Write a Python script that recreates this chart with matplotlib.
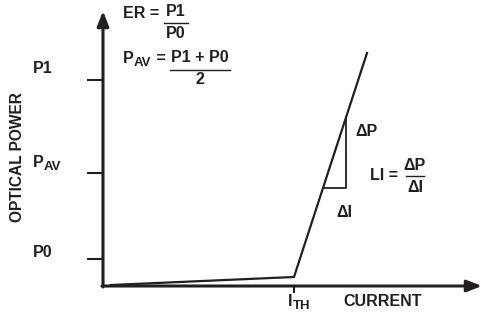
import matplotlib
matplotlib.use("Agg")
import matplotlib.pyplot as plt

plt.rcParams["font.family"] = ["Liberation Sans", "DejaVu Sans"]
plt.rcParams["font.weight"] = "bold"

# L-I curve (current, optical power), origin at the axes crossing
current = [8, 191, 264]
power = [1, 9, 233]

# power levels on the y axis: (main, subscript)
level_names = [("P1", ""), ("P", "AV"), ("P0", "")]
level_values = [206, 113, 27]
level_text_gap = [7, 6, 2]

# threshold current
i_th = 191

# slope triangle: start current / end current on the curve
tri_i = [220, 243]
tri_label_dp = "ΔP"
tri_label_di = "ΔI"

INK = "#231f20"
FS = 11.5
FS_SUB = 9.5


def power_at(i):
    # linear above threshold
    return power[1] + (power[2] - power[1]) * (i - current[1]) / (current[2] - current[1])


def sub_text(ax, x, y, main, sub, tail=""):
    # main text followed by a lowered, smaller subscript and optional tail
    t = ax.text(x, y, main, fontsize=FS, fontweight="bold", color=INK,
                ha="left", va="baseline")
    if not sub:
        return t
    s = ax.annotate(sub, xy=(1, 0), xycoords=t, xytext=(0.2, -2.4),
                    textcoords="offset points", fontsize=FS_SUB,
                    fontweight="bold", color=INK, ha="left", va="bottom")
    if tail:
        ax.annotate(tail, xy=(1, 0), xycoords=s, xytext=(0, 2.4),
                    textcoords="offset points", fontsize=FS,
                    fontweight="bold", color=INK, ha="left", va="bottom")
    return t


fig = plt.figure(figsize=(4.83, 3.13), dpi=100)
ax = fig.add_axes([0, 0, 1, 1])
ax.set_xlim(-103, 380)
ax.set_ylim(-27, 286)
ax.axis("off")

# axes with arrows
arrow = dict(arrowstyle="-|>,head_length=0.9,head_width=0.35", lw=2.2,
             color=INK, shrinkA=0, shrinkB=0)
ax.annotate("", xy=(0, 275), xytext=(0, -1), arrowprops=arrow)
ax.annotate("", xy=(379, 0), xytext=(-1, 0), arrowprops=arrow)

# level ticks and labels
for (name, sub), val, gap in zip(level_names, level_values, level_text_gap):
    ax.plot([-16, 0], [val, val], color=INK, lw=1.5, solid_capstyle="butt")
    sub_text(ax, -70, val + gap, name, sub)

# threshold tick
ax.plot([i_th, i_th], [-7, 0], color=INK, lw=1.5, solid_capstyle="butt")
sub_text(ax, i_th - 6, -20, "I", "TH")
ax.text(240, -8, "CURRENT", fontsize=FS, fontweight="bold", color=INK,
        ha="left", va="top")
ax.text(17 - 103, 129, "OPTICAL POWER", fontsize=11.2, fontweight="bold",
        color=INK, rotation=90, ha="center", va="center")

# L-I curve
ax.plot(current, power, color=INK, lw=1.6)

# slope triangle
p_lo = power_at(tri_i[0])
p_hi = power_at(tri_i[1])
ax.plot([tri_i[0], tri_i[1], tri_i[1]], [p_lo, p_lo, p_hi], color=INK, lw=1.3)
ax.text(tri_i[1] + 9, (p_lo + p_hi) / 2 + 21, tri_label_dp, fontsize=FS,
        fontweight="bold", color=INK, ha="left", va="center")
ax.text(tri_i[0] + 13, p_lo - 24, tri_label_di, fontsize=FS,
        fontweight="bold", color=INK, ha="left", va="center")

# LI = dP/dI
ax.text(267, 110, "LI =", fontsize=FS, fontweight="bold", color=INK,
        ha="left", va="center")
ax.text(312, 121, "ΔP", fontsize=FS, fontweight="bold", color=INK,
        ha="center", va="center")
ax.plot([303, 321], [110, 110], color=INK, lw=1.0)
ax.text(312, 99, "ΔI", fontsize=FS, fontweight="bold", color=INK,
        ha="center", va="center")

# ER = P1/P0
ax.text(20, 273, "ER =", fontsize=FS, fontweight="bold", color=INK,
        ha="left", va="center")
ax.text(73, 274, "P1", fontsize=FS, fontweight="bold", color=INK,
        ha="center", va="center")
ax.plot([61, 85], [263, 263], color=INK, lw=1.0)
ax.text(73, 253, "P0", fontsize=FS, fontweight="bold", color=INK,
        ha="center", va="center")

# PAV = (P1 + P0)/2
sub_text(ax, 20, 223, "P", "AV", " =")
ax.text(97, 228, "P1 + P0", fontsize=FS, fontweight="bold", color=INK,
        ha="center", va="center")
ax.plot([67, 127], [216, 216], color=INK, lw=1.0)
ax.text(97, 206, "2", fontsize=FS, fontweight="bold", color=INK,
        ha="center", va="center")

fig.savefig("out.png", dpi=100)
